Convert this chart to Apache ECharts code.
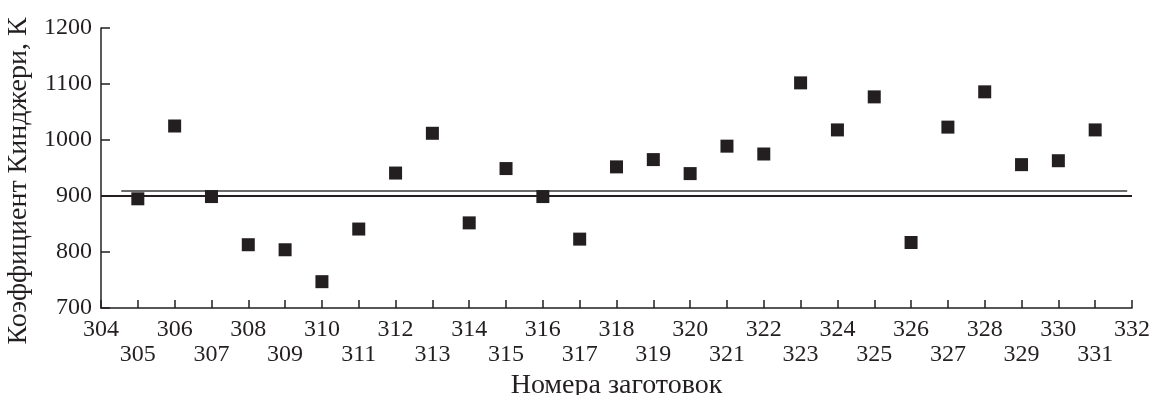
<!DOCTYPE html>
<html>
<head>
<meta charset="utf-8">
<script src="https://cdn.jsdelivr.net/npm/echarts@6/dist/echarts.min.js"></script>
<style>
  html, body { margin: 0; padding: 0; background: #fff; }
  #chart { width: 1153px; height: 395px; }
</style>
</head>
<body>
<div id="chart"></div>
<script>
// blank numbers 305..331
const blankNumbers = [305, 306, 307, 308, 309, 310, 311, 312, 313, 314, 315, 316, 317, 318,
  319, 320, 321, 322, 323, 324, 325, 326, 327, 328, 329, 330, 331];
// Kingery coefficient, K
const kingery = [895, 1025, 899, 813, 804, 747, 841, 941, 1012, 852, 949, 899, 823, 952,
  965, 940, 989, 975, 1102, 1018, 1077, 817, 1023, 1086, 956, 963, 1018];

// two horizontal reference lines
const baseLine = [[304, 900], [332, 900]];
const upperLine = [[304.55, 909], [331.87, 909]];

const xMin = 304, xMax = 332;
const yMin = 700, yMax = 1200, yStep = 100;

const font = '"Liberation Serif", "DejaVu Serif", serif';
const ink = '#231f20';

const chart = echarts.init(document.getElementById('chart'));

chart.setOption({
  backgroundColor: '#fff',
  animation: false,
  textStyle: { fontFamily: font, color: ink },
  grid: { left: 101, right: 21, top: 28, bottom: 87, containLabel: false, outerBoundsMode: 'none' },
  xAxis: {
    type: 'value',
    min: xMin,
    max: xMax,
    interval: 1,
    name: 'Номера заготовок',
    nameLocation: 'middle',
    nameGap: 61,
    nameTextStyle: { fontFamily: font, fontSize: 28, color: ink },
    axisLine: { lineStyle: { color: ink, width: 1.5 } },
    axisTick: { inside: true, length: 8, lineStyle: { color: ink, width: 1.5 } },
    splitLine: { show: false },
    axisLabel: {
      fontFamily: font,
      fontSize: 24,
      color: ink,
      margin: 9,
      lineHeight: 25,
      showMinLabel: true,
      showMaxLabel: true,
      formatter: v => (v % 2 === 0 ? String(v) : '\n' + v)
    }
  },
  yAxis: {
    type: 'value',
    min: yMin,
    max: yMax,
    interval: yStep,
    name: 'Коэффициент Кинджери, К',
    nameLocation: 'middle',
    nameGap: 63,
    nameTextStyle: { fontFamily: font, fontSize: 28, color: ink, padding: [0, 26, 0, 0] },
    axisLine: { lineStyle: { color: ink, width: 1.5 } },
    axisTick: { inside: true, length: 9, lineStyle: { color: ink, width: 1.5 } },
    splitLine: { show: false },
    axisLabel: { fontFamily: font, fontSize: 24, color: ink, margin: 9, formatter: v => String(v) }
  },
  series: [
    {
      type: 'line',
      data: baseLine,
      symbol: 'none',
      lineStyle: { color: ink, width: 2 },
      z: 1
    },
    {
      type: 'line',
      data: upperLine,
      symbol: 'none',
      lineStyle: { color: '#3a3a3a', width: 1.5 },
      z: 1
    },
    {
      type: 'scatter',
      data: blankNumbers.map((n, i) => [n, kingery[i]]),
      symbol: 'rect',
      symbolSize: 13,
      itemStyle: { color: ink, opacity: 1 },
      z: 3
    }
  ]
});
</script>
</body>
</html>
